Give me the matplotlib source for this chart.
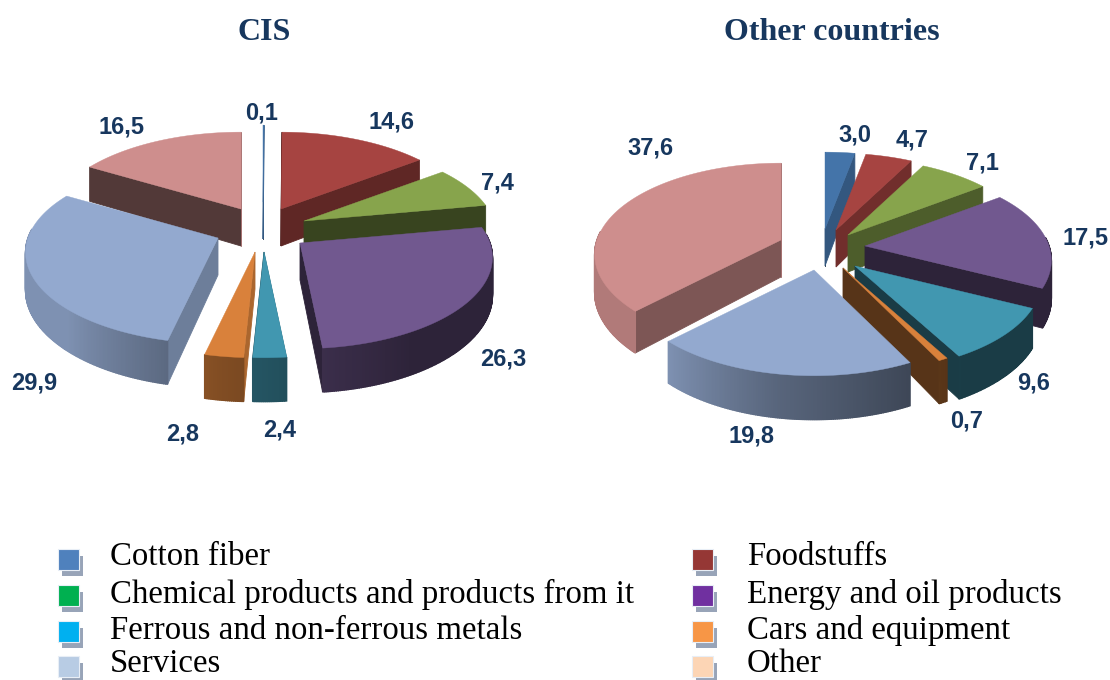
import numpy as np
import matplotlib
matplotlib.use('Agg')
import matplotlib.pyplot as plt
from matplotlib.colors import to_rgb

# data
categories = ['Cotton fiber', 'Foodstuffs', 'Chemical products and products from it',
              'Energy and oil products', 'Ferrous and non-ferrous metals',
              'Cars and equipment', 'Services', 'Other']
cis_values = [0.1, 14.6, 7.4, 26.3, 2.4, 2.8, 29.9, 16.5]
other_values = [3.0, 4.7, 7.1, 17.5, 9.6, 0.7, 19.8, 37.6]

# colours
slice_colors = ['#4474a9', '#a64441', '#87a44c', '#71588f', '#4197b0', '#d9813b', '#93a9cf', '#ce8e8d']
legend_colors = ['#4f81bd', '#953735', '#00b050', '#7030a0', '#00b0f0', '#f79646', '#b8cce4', '#fcd5b5']
text_color = '#17375e'

# layout of the exploded slices, pixels
cis_apex = [(263, 202), (281, 209), (304, 221), (300, 243), (264, 252), (255, 252), (218, 238), (241, 209)]
other_apex = [(825, 229), (836, 230), (848, 235), (865, 246), (855, 266), (843, 268), (814, 270), (781, 240)]
cis_order = [0, 7, 1, 2, 6, 3, 5, 4]
other_order = [7, 0, 1, 2, 3, 4, 5, 6]
cis_label_pos = [(262, 113), (391, 122), (497, 183), (503, 359), (280, 430), (183, 434), (34, 383), (122, 127)]
other_label_pos = [(855, 135), (912, 140), (982, 163), (1086, 238), (1034, 383), (967, 421), (751, 436), (650, 148)]

RY = 89
PERSP = 0.158
DEPTH = 37


def project(angle, apex, rx):
    # simple perspective on the pie plane, angle clockwise from 12 o'clock
    a = np.radians(angle)
    s = 1 / (1 + PERSP * np.cos(a))
    x = apex[0] + rx * np.sin(a) * s
    y = apex[1] - RY * np.cos(a) * s
    return x, y, DEPTH * s


def shaded(color, k):
    return tuple(np.array(to_rgb(color)) * k)


def wall_shade(normal):
    return np.interp(normal % 360, [0, 90, 143, 170, 206, 360], [0.8, 0.8, 0.57, 0.41, 0.4, 0.4])


def rim_shade(angle):
    return np.interp(angle % 360, [0, 150, 190, 225, 360], [0.4, 0.4, 0.6, 0.86, 0.86])


def draw_wall(ax, angle, normal, apex, rx, color):
    # back facing walls are skipped
    if np.cos(np.radians(normal)) > 0.15:
        return
    x, y, d = project(angle, apex, rx)
    ax.fill([apex[0], x, x, apex[0]], [apex[1], y, y + d, apex[1] + DEPTH],
            color=shaded(color, wall_shade(normal)), lw=0.6)


def draw_slice(ax, a0, a1, apex, rx, color):
    steps = max(int(a1 - a0) * 2, 2)
    angles = np.linspace(a0, a1, steps + 1)

    draw_wall(ax, a0, a0 - 90, apex, rx, color)
    draw_wall(ax, a1, a1 + 90, apex, rx, color)

    # outer rim, in small strips so that the shade can change along it
    for i in range(steps):
        mid = (angles[i] + angles[i + 1]) / 2
        if np.cos(np.radians(mid)) > 0.1:
            continue
        x0, y0, d0 = project(angles[i], apex, rx)
        x1, y1, d1 = project(angles[i + 1], apex, rx)
        ax.fill([x0, x1, x1, x0], [y0, y1, y1 + d1, y0 + d0],
                color=shaded(color, rim_shade(mid)), lw=1.0)

    xs, ys, _ = project(angles, apex, rx)
    ax.fill(np.r_[apex[0], xs], np.r_[apex[1], ys], color=color, lw=0.3)


def draw_pie(ax, values, apexes, order, rx, label_pos):
    edges = np.r_[0, np.cumsum(values)] * 360 / np.sum(values)
    for i in order:
        draw_slice(ax, edges[i], edges[i + 1], apexes[i], rx, slice_colors[i])
    for v, (x, y) in zip(values, label_pos):
        ax.text(x, y, f'{v:.1f}'.replace('.', ','), ha='center', va='center',
                family='Liberation Sans', weight='bold', fontsize=17, color=text_color)


fig = plt.figure(figsize=(11.1, 6.8), dpi=100)
ax = fig.add_axes([0, 0, 1, 1])
ax.set_xlim(0, 1110)
ax.set_ylim(680, 0)
ax.axis('off')

ax.text(264, 33, 'CIS', ha='center', va='center', family='Liberation Serif',
        weight='bold', fontsize=23, color=text_color)
ax.text(832, 33, 'Other countries', ha='center', va='center', family='Liberation Serif',
        weight='bold', fontsize=23, color=text_color)

draw_pie(ax, cis_values, cis_apex, cis_order, 190, cis_label_pos)
draw_pie(ax, other_values, other_apex, other_order, 184, other_label_pos)

# legend, two columns
swatch_y = [549, 585, 621, 656]
text_y = [565, 603, 639, 672]
for i, name in enumerate(categories):
    col = i % 2
    row = i // 2
    sx = [58, 692][col]
    tx = [110, 747][col]
    y = swatch_y[row]
    ax.fill([sx + 4, sx + 25, sx + 25, sx + 4], [y + 7, y + 7, y + 27, y + 27], color='#98a4b8', lw=0)
    ax.fill([sx, sx + 21, sx + 21, sx], [y, y, y + 21, y + 21], facecolor=legend_colors[i],
            edgecolor='#e8eef6', lw=0.8)
    ax.text(tx, text_y[row], name, ha='left', va='baseline', family='Liberation Serif',
            fontsize=23.7, color='black')

fig.savefig('out.png', dpi=100)
